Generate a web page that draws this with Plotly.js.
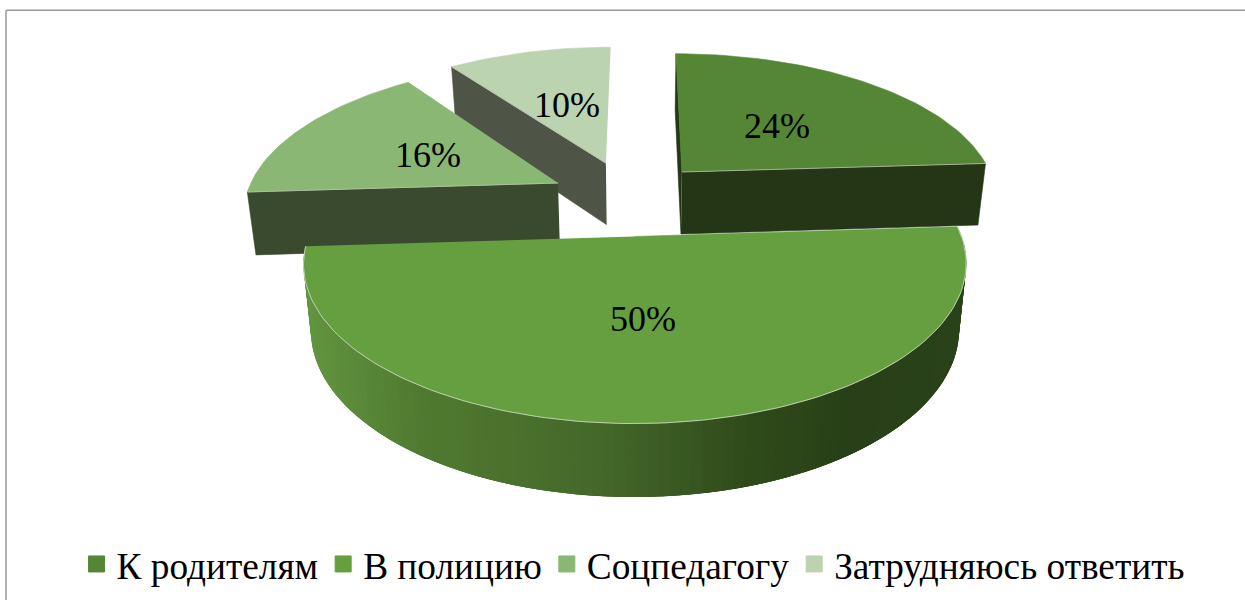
<!DOCTYPE html>
<html><head><meta charset="utf-8">
<script src="https://cdn.plot.ly/plotly-3.0.1.min.js"></script>
<style>html,body{margin:0;padding:0;background:#fff}#c{width:1245px;height:600px}</style>
</head><body><div id="c"></div>
<script>
// data
const categories = ['К родителям','В полицию','Соцпедагогу','Затрудняюсь ответить'];
const shares = [24,50,16,10];
// styling
const topColors = ['#558636','#659f3f','#8ab874','#bcd3b0'];
const wallColors = ['#243615','#4a6b2c','#3a4a2e','#4e5546'];
const wallStops = [[305,[98,150,64]],[420,[80,122,48]],[600,[68,104,42]],[750,[47,74,26]],[850,[40,63,23]],[965,[42,66,25]]];
const FONT = '"Liberation Serif","Times New Roman",serif';
// projection of the tilted pie, and each slice's explosion offset and radius factors in the pie's plane
const x0=640,y0=238,A=332,B=154,p=0.17;
const offsets=[[0.136,0.462],[-0.015,0.01],[-0.263,0.38],[-0.112,0.53]];
const radii=[[1,1.04],[0.985,1.01],[0.985,1.04],[1,1.04]];
const labelAt=[[777,129],[643,322],[428,158],[567,108]];
function proj(X,Z,h){const w=1+p*Z;const d=65+4*Z;
  return [x0+A*X/w*(1-0.022*h), y0-B*Z/w+h*d/w];}
const rad=Math.PI/180;
function rim(i,t,h){const o=offsets[i],r=radii[i];return proj(o[0]+r[0]*Math.sin(t*rad),o[1]+r[1]*Math.cos(t*rad),h);}
function apex(i,h){const o=offsets[i];return proj(o[0],o[1],h);}
function poly(pts,color,extra){return Object.assign({type:'scatter',mode:'lines',x:pts.map(q=>q[0]),y:pts.map(q=>q[1]),
  fill:'toself',fillcolor:color,line:{color:color,width:0.6},hoverinfo:'skip',showlegend:false},extra||{});}
function edge(pts,color,w){return {type:'scatter',mode:'lines',x:pts.map(q=>q[0]),y:pts.map(q=>q[1]),line:{color:color,width:w||1},hoverinfo:'skip',showlegend:false};}
const total=shares.reduce((a,b)=>a+b,0);
const starts=[];let acc=0;shares.forEach(v=>{starts.push(acc/total*360);acc+=v;});
const ends=shares.map((v,i)=>starts[i]+v/total*360);
function arc(i,h,from,to){const n=Math.max(8,Math.round(Math.abs(to-from)/1.5));const r=[];
  for(let k=0;k<=n;k++)r.push(rim(i,from+(to-from)*k/n,h));return r;}
function radialFace(i,t,c){return poly([apex(i,0),rim(i,t,0),rim(i,t,1),apex(i,1)],c);}
function wallColor(x){for(let k=0;k<wallStops.length-1;k++){const a=wallStops[k],b=wallStops[k+1];
    if(x<=b[0]){const f=Math.max(0,(x-a[0])/(b[0]-a[0]));
      const c=a[1].map((v,j)=>Math.round(v+(b[1][j]-v)*f));return `rgb(${c.join(',')})`;}}
  const l=wallStops[wallStops.length-1][1];return `rgb(${l.join(',')})`;}
const traces=[];
// back to front: slice 4, slice 3, slice 1, slice 2
[3,2,0].forEach(i=>{
  const t = i===0? ends[0] : starts[i];
  if(i===0) traces.push(radialFace(0,starts[0],wallColors[0]));
  traces.push(radialFace(i,t,wallColors[i]));
  traces.push(poly([apex(i,0)].concat(arc(i,0,starts[i],ends[i])),topColors[i]));
  traces.push(edge([apex(i,0),rim(i,t,0)],'#b9c2b0',0.8));
});
// outer wall of the big slice, banded; each band runs under the next so no seams show
{const i=1,n=110,step=(ends[i]-starts[i])/n;
 for(let k=0;k<n;k++){const a=starts[i]+step*k,b=Math.min(ends[i],a+step*3);
  const pts=arc(i,0,a,b).concat(arc(i,1,b,a));
  const mx=(rim(i,a+step/2,0)[0]+rim(i,a+step/2,1)[0])/2;
  const c=wallColor(mx);
  traces.push(poly(pts,c,{line:{color:c,width:0}}));}
 traces.push(poly([apex(i,0)].concat(arc(i,0,starts[i],ends[i])),topColors[i]));
 traces.push(edge(arc(i,0,starts[i],ends[i]),'#d5ddcc',0.8));
}
// data labels
traces.push({type:'scatter',mode:'text',x:labelAt.map(q=>q[0]),y:labelAt.map(q=>q[1]),
  text:shares.map(v=>v+'%'),textposition:'middle center',textfont:{family:FONT,size:36,color:'#000'},hoverinfo:'skip',showlegend:false});
// legend entries
categories.forEach((c,i)=>traces.push({type:'scatter',mode:'markers',x:[null],y:[null],name:c,
  marker:{symbol:'square',size:16,color:topColors[i],line:{color:topColors[i],width:1}},hoverinfo:'skip'}));
const layout={width:1245,height:600,margin:{l:0,r:0,t:0,b:0},paper_bgcolor:'#fff',plot_bgcolor:'#fff',
  xaxis:{range:[0,1245],visible:false,fixedrange:true},
  yaxis:{range:[600,0],visible:false,fixedrange:true},
  font:{family:FONT,color:'#000'},
  showlegend:true,
  legend:{orientation:'h',x:0.0615,xanchor:'left',y:0.008,yanchor:'bottom',font:{family:FONT,size:37.3,color:'#000'},bgcolor:'rgba(0,0,0,0)',itemclick:false,itemdoubleclick:false,traceorder:'normal'},
  shapes:[{type:'line',xref:'paper',yref:'paper',x0:0.0048,x1:0.0048,y0:0,y1:0.983,line:{color:'#9a9a9a',width:1.5}},
          {type:'line',xref:'paper',yref:'paper',x0:0.0048,x1:1,y0:0.983,y1:0.983,line:{color:'#9a9a9a',width:1.5}}]};
Plotly.newPlot('c',traces,layout,{displayModeBar:false,staticPlot:true});
</script></body></html>
